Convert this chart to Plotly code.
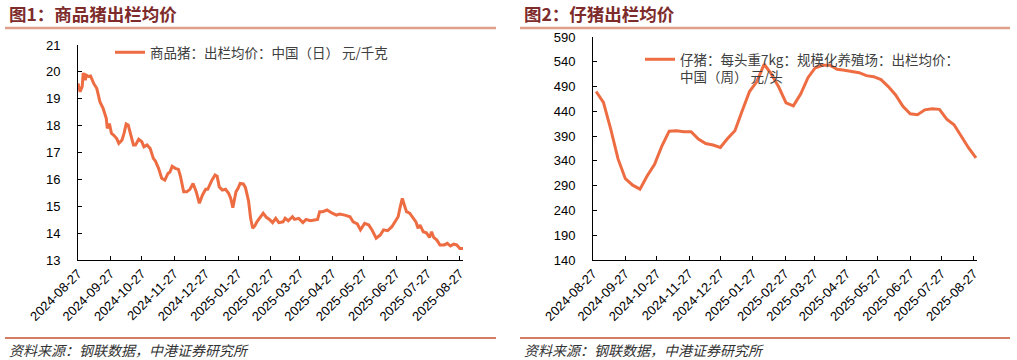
import plotly.graph_objects as go

# ---------------- data ----------------
hog_dates = [
    "2024-08-27", "2024-08-29", "2024-08-31", "2024-09-01", "2024-09-03", "2024-09-04", "2024-09-06", "2024-09-08",
    "2024-09-11", "2024-09-14", "2024-09-17", "2024-09-20", "2024-09-23", "2024-09-24", "2024-09-26", "2024-09-28",
    "2024-09-30", "2024-10-03", "2024-10-05", "2024-10-08", "2024-10-10", "2024-10-12", "2024-10-14", "2024-10-16",
    "2024-10-19", "2024-10-21", "2024-10-24", "2024-10-27", "2024-10-29", "2024-11-01", "2024-11-04", "2024-11-07",
    "2024-11-09", "2024-11-12", "2024-11-15", "2024-11-18", "2024-11-21", "2024-11-23", "2024-11-25", "2024-11-28",
    "2024-12-01", "2024-12-03", "2024-12-06", "2024-12-09", "2024-12-12", "2024-12-15", "2024-12-18", "2024-12-21",
    "2024-12-24", "2024-12-27", "2024-12-29", "2025-01-02", "2025-01-05", "2025-01-07", "2025-01-09", "2025-01-12",
    "2025-01-15", "2025-01-18", "2025-01-20", "2025-01-22", "2025-01-25", "2025-01-27", "2025-01-29", "2025-02-01",
    "2025-02-03", "2025-02-06", "2025-02-08", "2025-02-10", "2025-02-12", "2025-02-14", "2025-02-17", "2025-02-20",
    "2025-02-23", "2025-02-26", "2025-03-01", "2025-03-04", "2025-03-07", "2025-03-11", "2025-03-13", "2025-03-16",
    "2025-03-20", "2025-03-22", "2025-03-26", "2025-03-30", "2025-04-02", "2025-04-06", "2025-04-10", "2025-04-13",
    "2025-04-15", "2025-04-18", "2025-04-22", "2025-04-24", "2025-04-27", "2025-05-01", "2025-05-04", "2025-05-09",
    "2025-05-14", "2025-05-17", "2025-05-21", "2025-05-24", "2025-05-28", "2025-06-01", "2025-06-04", "2025-06-08",
    "2025-06-12", "2025-06-15", "2025-06-19", "2025-06-23", "2025-06-26", "2025-06-29", "2025-07-01", "2025-07-03",
    "2025-07-05", "2025-07-07", "2025-07-10", "2025-07-13", "2025-07-16", "2025-07-18", "2025-07-20", "2025-07-23",
    "2025-07-26", "2025-07-29", "2025-07-31", "2025-08-02", "2025-08-05", "2025-08-08", "2025-08-12", "2025-08-15",
    "2025-08-18", "2025-08-21", "2025-08-24", "2025-08-27", "2025-08-30",
]
hog_price = [
    19.57, 19.26, 19.45, 19.96, 19.69, 19.88, 19.83, 19.85,
    19.57, 19.38, 18.88, 18.64, 18.27, 17.90, 18.08, 17.71,
    17.65, 17.52, 17.34, 17.46, 17.71, 18.06, 18.02, 17.71,
    17.28, 17.28, 17.49, 17.40, 17.21, 17.28, 17.15, 16.78,
    16.68, 16.41, 16.04, 15.97, 16.22, 16.28, 16.49, 16.41,
    16.37, 16.10, 15.54, 15.54, 15.63, 15.85, 15.54, 15.11,
    15.42, 15.63, 15.63, 15.97, 16.16, 16.12, 15.72, 15.60,
    15.63, 15.48, 15.29, 14.95, 15.54, 15.67, 15.85, 15.83,
    15.70, 15.20, 14.55, 14.18, 14.27, 14.42, 14.58, 14.74,
    14.59, 14.51, 14.39, 14.55, 14.39, 14.42, 14.55, 14.46,
    14.61, 14.51, 14.55, 14.39, 14.51, 14.46, 14.49, 14.51,
    14.80, 14.80, 14.86, 14.80, 14.74, 14.67, 14.71, 14.67,
    14.61, 14.42, 14.34, 14.12, 14.36, 14.30, 14.12, 13.81,
    13.93, 14.12, 14.09, 14.24, 14.42, 14.61, 14.98, 15.29,
    15.04, 14.80, 14.74, 14.59, 14.42, 14.18, 14.30, 14.05,
    14.01, 13.84, 14.05, 13.84, 13.74, 13.56, 13.56, 13.62,
    13.52, 13.59, 13.56, 13.43, 13.43,
]

piglet_dates = [
    "2024-08-30", "2024-09-06", "2024-09-13", "2024-09-20", "2024-09-27", "2024-10-04", "2024-10-11", "2024-10-18",
    "2024-10-25", "2024-11-01", "2024-11-08", "2024-11-15", "2024-11-22", "2024-11-29", "2024-12-06", "2024-12-13",
    "2024-12-20", "2024-12-27", "2025-01-03", "2025-01-10", "2025-01-17", "2025-01-24", "2025-01-31", "2025-02-07",
    "2025-02-14", "2025-02-21", "2025-02-28", "2025-03-07", "2025-03-14", "2025-03-21", "2025-03-28", "2025-04-04",
    "2025-04-11", "2025-04-18", "2025-04-25", "2025-05-02", "2025-05-09", "2025-05-16", "2025-05-23", "2025-05-30",
    "2025-06-06", "2025-06-13", "2025-06-20", "2025-06-27", "2025-07-04", "2025-07-11", "2025-07-18", "2025-07-25",
    "2025-08-01", "2025-08-08", "2025-08-15", "2025-08-22", "2025-08-29",
]
piglet_price = [
    480, 458, 404, 344, 304, 291, 283, 310,
    333, 370, 400, 401, 399, 399, 384, 375,
    372, 367, 385, 401, 441, 480, 500, 535,
    515, 489, 457, 451, 475, 508, 528, 533,
    533, 525, 523, 521, 518, 512, 510, 504,
    490, 473, 450, 435, 433, 443, 445, 444,
    424, 413, 388, 366, 346,
]

tick_dates = [
    "2024-08-27", "2024-09-27", "2024-10-27", "2024-11-27", "2024-12-27", "2025-01-27", "2025-02-27",
    "2025-03-27", "2025-04-27", "2025-05-27", "2025-06-27", "2025-07-27", "2025-08-27",
]

title_left = "图1：商品猪出栏均价"
title_right = "图2：仔猪出栏均价"
name_left = "商品猪：出栏均价：中国（日） 元/千克"
name_right = "仔猪：每头重7kg：规模化养殖场：出栏均价：<br>中国（周） 元/头"
source_text = "资料来源：钢联数据，中港证券研究所"

# ---------------- styling ----------------
W, H = 1017, 360
LINE_COLOR = "#EE6C42"
TITLE_COLOR = "#7D2B2B"
CJK = "Noto Sans CJK SC"
NUM = "Liberation Sans, Arial"


def px(x):
    return x / W


def py(y):
    return 1 - y / H


fig = go.Figure()
fig.add_trace(go.Scatter(x=hog_dates, y=hog_price, mode="lines", name=name_left,
                         line=dict(color=LINE_COLOR, width=3), xaxis="x", yaxis="y",
                         legend="legend"))
fig.add_trace(go.Scatter(x=piglet_dates, y=piglet_price, mode="lines", name=name_right,
                         line=dict(color=LINE_COLOR, width=3), xaxis="x2", yaxis="y2",
                         legend="legend2"))

xcommon = dict(type="date", range=["2024-08-27", "2025-08-30"], tickmode="array",
               tickvals=tick_dates, ticktext=tick_dates, tickangle=-45,
               ticks="inside", ticklen=4, tickcolor="black", automargin=False,
               showline=True, linecolor="black", linewidth=1, showgrid=False, zeroline=False,
               tickfont=dict(family=NUM, size=13, color="black"))
ycommon = dict(ticks="inside", ticklen=4, tickcolor="black", showline=True, linecolor="black",
               linewidth=1, showgrid=False, zeroline=False, ticklabelstandoff=14, automargin=False,
               tickfont=dict(family=NUM, size=13, color="black"))

fig.update_layout(
    width=W, height=H, margin=dict(l=0, r=0, t=0, b=0, autoexpand=False),
    paper_bgcolor="white", plot_bgcolor="white",
    xaxis=dict(domain=[px(78), px(463)], anchor="y", **xcommon),
    yaxis=dict(domain=[py(260), py(45)], anchor="x", range=[13, 21], tick0=13, dtick=1, **ycommon),
    xaxis2=dict(domain=[px(593), px(977)], anchor="y2", **xcommon),
    yaxis2=dict(domain=[py(260), py(37)], anchor="x2", range=[140, 590], tick0=140, dtick=50, **ycommon),
    legend=dict(x=px(110), y=py(37), xanchor="left", yanchor="top", bgcolor="rgba(0,0,0,0)",
                font=dict(family=CJK, size=13.5, color="#404040")),
    legend2=dict(x=px(640), y=py(44), xanchor="left", yanchor="top", bgcolor="rgba(0,0,0,0)",
                 valign="top", font=dict(family=CJK, size=13.5, color="#404040")),
    showlegend=True,
)

annotations = []
shapes = []
for x0, x1, title in [(7, 496, title_left), (522, 1010, title_right)]:
    annotations.append(dict(text=f"<b>{title}</b>", x=px(x0), y=py(14), xref="paper", yref="paper",
                            xanchor="left", yanchor="middle", showarrow=False,
                            font=dict(family=CJK, size=17.5, color=TITLE_COLOR)))
    annotations.append(dict(text=f"<i>{source_text}</i>", x=px(x0), y=py(350), xref="paper", yref="paper",
                            xanchor="left", yanchor="middle", showarrow=False,
                            font=dict(family=CJK, size=14, color="#333333")))
    shapes.append(dict(type="line", xref="paper", yref="paper", x0=px(x0 - 2), x1=px(x1),
                       y0=py(28), y1=py(28), line=dict(color="#DFA089", width=2.5)))
    shapes.append(dict(type="line", xref="paper", yref="paper", x0=px(x0 - 2), x1=px(x1),
                       y0=py(338), y1=py(338), line=dict(color="#C4532F", width=1.5)))

fig.update_layout(annotations=annotations, shapes=shapes)
fig.write_html("out.html", config={"displayModeBar": False},
               post_script="document.body.style.margin='0';")
